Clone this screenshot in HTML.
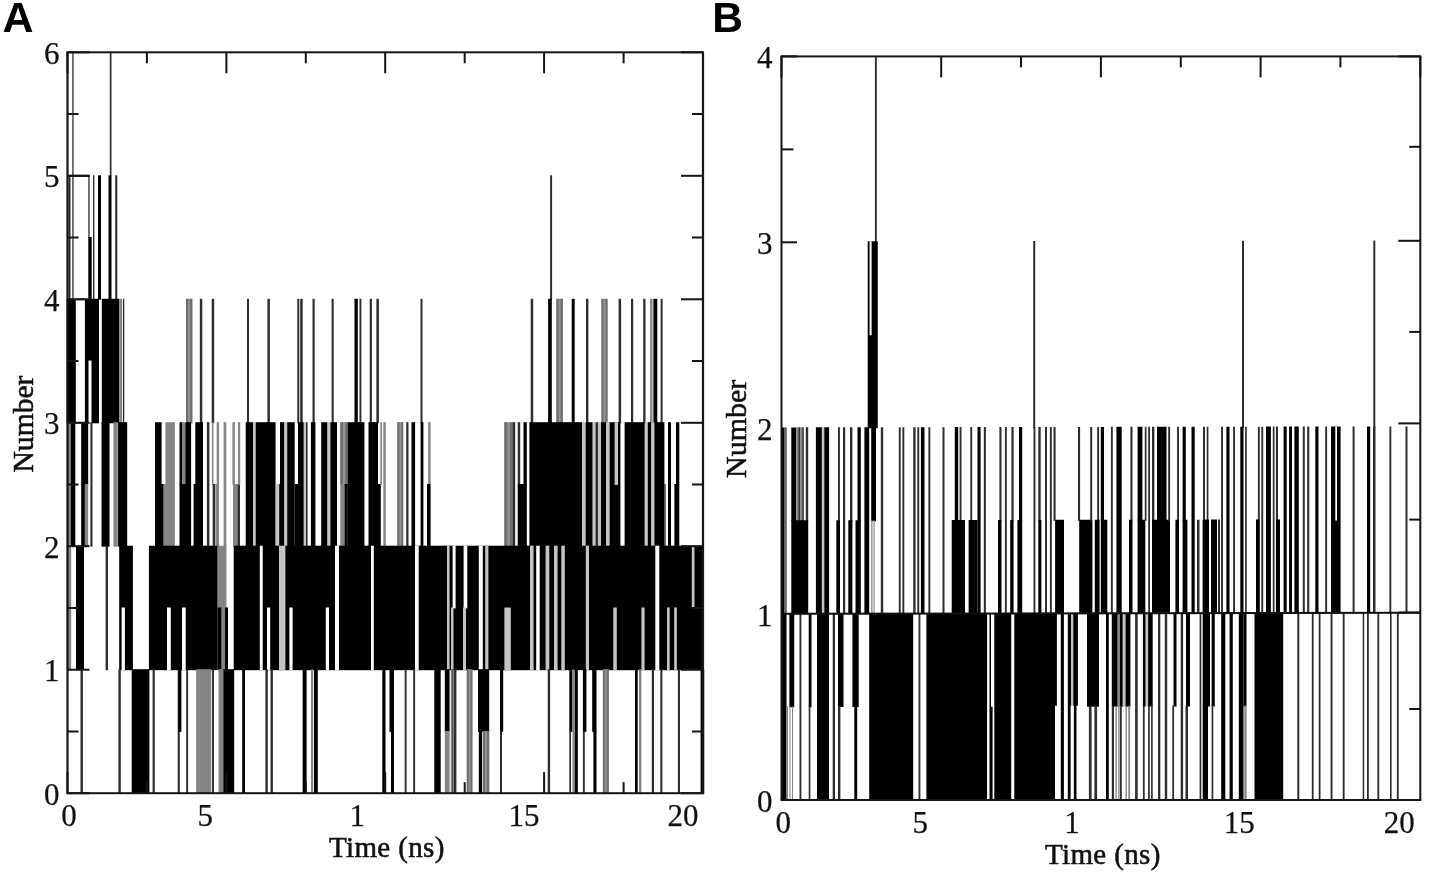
<!DOCTYPE html>
<html><head><meta charset="utf-8"><title>Figure</title>
<style>html,body{margin:0;padding:0;background:#fff;}svg{display:block;}</style></head>
<body><svg width="1432" height="874" viewBox="0 0 1432 874">
<defs><clipPath id="clipB"><rect x="780" y="56" width="641.5" height="744.5"/></clipPath></defs>
<rect width="1432" height="874" fill="#fff"/>
<g>
<rect x="72.3" y="51.8" width="1.3" height="124.5" fill="#2e2e2e"/>
<rect x="109.8" y="51.8" width="1.7" height="124.5" fill="#2e2e2e"/>
<rect x="72.3" y="175.3" width="1.3" height="124.5" fill="#2e2e2e"/>
<rect x="68.5" y="175.3" width="2.0" height="124.5" fill="#2e2e2e"/>
<rect x="88.3" y="175.3" width="1.3" height="62.7" fill="#2e2e2e"/>
<rect x="88.3" y="237.0" width="3.4" height="62.7" fill="#000"/>
<rect x="93.0" y="175.3" width="1.4" height="124.5" fill="#2e2e2e"/>
<rect x="98.0" y="175.3" width="3.0" height="124.5" fill="#000"/>
<rect x="108.5" y="175.3" width="3.0" height="124.5" fill="#000"/>
<rect x="115.2" y="175.3" width="2.1" height="124.5" fill="#2e2e2e"/>
<rect x="550.1" y="175.3" width="2.0" height="124.5" fill="#2e2e2e"/>
<rect x="66.6" y="298.8" width="9.2" height="124.5" fill="#000"/>
<rect x="84.9" y="298.8" width="14.1" height="124.5" fill="#000"/>
<rect x="88.5" y="360.5" width="3.0" height="62.7" fill="#fff"/>
<rect x="101.8" y="298.8" width="17.6" height="124.5" fill="#000"/>
<rect x="119.7" y="298.8" width="2.5" height="124.5" fill="#858585"/>
<rect x="123.0" y="298.8" width="1.3" height="124.5" fill="#2e2e2e"/>
<rect x="186.0" y="298.8" width="6.3" height="124.5" fill="#929292"/>
<rect x="186.0" y="298.8" width="2.1" height="124.5" fill="#6e6e6e"/>
<rect x="190.2" y="298.8" width="2.1" height="124.5" fill="#6e6e6e"/>
<rect x="199.8" y="298.8" width="2.5" height="124.5" fill="#2e2e2e"/>
<rect x="211.7" y="298.8" width="2.5" height="124.5" fill="#2e2e2e"/>
<rect x="247.0" y="298.8" width="2.0" height="124.5" fill="#2e2e2e"/>
<rect x="267.4" y="298.8" width="2.5" height="124.5" fill="#2e2e2e"/>
<rect x="297.3" y="298.8" width="2.0" height="124.5" fill="#2e2e2e"/>
<rect x="300.2" y="298.8" width="2.5" height="124.5" fill="#2e2e2e"/>
<rect x="312.5" y="298.8" width="2.2" height="124.5" fill="#2e2e2e"/>
<rect x="331.6" y="298.8" width="2.1" height="124.5" fill="#2e2e2e"/>
<rect x="354.5" y="298.8" width="3.3" height="124.5" fill="#000"/>
<rect x="359.5" y="298.8" width="1.9" height="124.5" fill="#2e2e2e"/>
<rect x="369.7" y="298.8" width="2.2" height="124.5" fill="#2e2e2e"/>
<rect x="376.4" y="298.8" width="2.5" height="124.5" fill="#2e2e2e"/>
<rect x="420.5" y="298.8" width="2.0" height="124.5" fill="#2e2e2e"/>
<rect x="530.7" y="298.8" width="2.5" height="124.5" fill="#2e2e2e"/>
<rect x="548.1" y="298.8" width="3.7" height="124.5" fill="#000"/>
<rect x="556.4" y="298.8" width="6.3" height="124.5" fill="#929292"/>
<rect x="556.4" y="298.8" width="2.1" height="124.5" fill="#6e6e6e"/>
<rect x="560.6" y="298.8" width="2.1" height="124.5" fill="#6e6e6e"/>
<rect x="571.7" y="298.8" width="3.0" height="124.5" fill="#000"/>
<rect x="586.0" y="298.8" width="2.4" height="124.5" fill="#2e2e2e"/>
<rect x="601.5" y="298.8" width="6.0" height="124.5" fill="#929292"/>
<rect x="601.5" y="298.8" width="2.0" height="124.5" fill="#6e6e6e"/>
<rect x="605.5" y="298.8" width="2.0" height="124.5" fill="#6e6e6e"/>
<rect x="618.6" y="298.8" width="2.5" height="124.5" fill="#2e2e2e"/>
<rect x="631.0" y="298.8" width="2.2" height="124.5" fill="#2e2e2e"/>
<rect x="643.2" y="298.8" width="2.3" height="124.5" fill="#2e2e2e"/>
<rect x="650.1" y="298.8" width="2.5" height="124.5" fill="#858585"/>
<rect x="653.4" y="298.8" width="3.9" height="124.5" fill="#000"/>
<rect x="660.6" y="298.8" width="2.0" height="124.5" fill="#2e2e2e"/>
<rect x="68.0" y="422.2" width="2.8" height="124.5" fill="#858585"/>
<rect x="70.8" y="422.2" width="4.5" height="124.5" fill="#000"/>
<rect x="81.2" y="422.2" width="7.0" height="62.7" fill="#000"/>
<rect x="81.2" y="484.0" width="3.7" height="62.7" fill="#000"/>
<rect x="84.9" y="484.0" width="3.3" height="62.7" fill="#858585"/>
<rect x="90.4" y="422.2" width="2.1" height="124.5" fill="#2e2e2e"/>
<rect x="101.5" y="422.2" width="8.0" height="124.5" fill="#000"/>
<rect x="113.4" y="422.2" width="4.4" height="124.5" fill="#858585"/>
<rect x="118.1" y="422.2" width="9.1" height="124.5" fill="#000"/>
<rect x="155.0" y="422.2" width="6.6" height="62.7" fill="#000"/>
<rect x="155.0" y="484.0" width="8.7" height="62.7" fill="#000"/>
<rect x="165.4" y="422.2" width="9.5" height="62.7" fill="#858585"/>
<rect x="163.7" y="484.0" width="11.2" height="62.7" fill="#858585"/>
<rect x="179.5" y="422.2" width="3.0" height="62.7" fill="#000"/>
<rect x="182.5" y="422.2" width="2.8" height="62.7" fill="#858585"/>
<rect x="185.3" y="422.2" width="5.8" height="62.7" fill="#000"/>
<rect x="179.5" y="484.0" width="11.6" height="62.7" fill="#000"/>
<rect x="195.3" y="422.2" width="7.7" height="62.7" fill="#000"/>
<rect x="193.6" y="484.0" width="9.4" height="62.7" fill="#000"/>
<rect x="206.9" y="422.2" width="2.5" height="124.5" fill="#2e2e2e"/>
<rect x="211.9" y="422.2" width="1.6" height="62.7" fill="#858585"/>
<rect x="212.7" y="484.0" width="2.5" height="62.7" fill="#2e2e2e"/>
<rect x="216.7" y="422.2" width="2.4" height="62.7" fill="#858585"/>
<rect x="215.5" y="484.0" width="3.6" height="62.7" fill="#858585"/>
<rect x="223.6" y="422.2" width="2.7" height="124.5" fill="#858585"/>
<rect x="232.4" y="422.2" width="2.5" height="62.7" fill="#858585"/>
<rect x="233.0" y="484.0" width="4.4" height="62.7" fill="#858585"/>
<rect x="237.4" y="484.0" width="2.6" height="62.7" fill="#2e2e2e"/>
<rect x="237.9" y="422.2" width="2.3" height="62.7" fill="#858585"/>
<rect x="245.7" y="422.2" width="7.5" height="124.5" fill="#000"/>
<rect x="253.2" y="422.2" width="2.5" height="124.5" fill="#c4c4c4"/>
<rect x="255.7" y="422.2" width="19.9" height="124.5" fill="#000"/>
<rect x="275.6" y="484.0" width="3.4" height="62.7" fill="#c4c4c4"/>
<rect x="279.0" y="484.0" width="1.0" height="62.7" fill="#2e2e2e"/>
<rect x="280.0" y="422.2" width="4.4" height="124.5" fill="#000"/>
<rect x="284.4" y="422.2" width="2.8" height="124.5" fill="#c4c4c4"/>
<rect x="287.2" y="422.2" width="7.5" height="124.5" fill="#000"/>
<rect x="294.7" y="484.0" width="3.3" height="62.7" fill="#000"/>
<rect x="298.0" y="422.2" width="5.8" height="124.5" fill="#000"/>
<rect x="303.8" y="422.2" width="2.2" height="124.5" fill="#c4c4c4"/>
<rect x="306.0" y="422.2" width="1.6" height="124.5" fill="#2e2e2e"/>
<rect x="310.9" y="422.2" width="4.5" height="124.5" fill="#000"/>
<rect x="321.2" y="422.2" width="6.3" height="124.5" fill="#000"/>
<rect x="327.5" y="422.2" width="2.9" height="124.5" fill="#c4c4c4"/>
<rect x="330.4" y="422.2" width="6.6" height="124.5" fill="#000"/>
<rect x="340.3" y="422.2" width="7.5" height="62.7" fill="#929292"/>
<rect x="340.3" y="422.2" width="2.6" height="62.7" fill="#6e6e6e"/>
<rect x="345.2" y="422.2" width="2.6" height="62.7" fill="#6e6e6e"/>
<rect x="340.3" y="484.0" width="4.2" height="62.7" fill="#858585"/>
<rect x="344.5" y="484.0" width="3.3" height="62.7" fill="#000"/>
<rect x="347.8" y="422.2" width="16.6" height="124.5" fill="#000"/>
<rect x="368.5" y="422.2" width="6.5" height="124.5" fill="#000"/>
<rect x="370.0" y="422.2" width="8.0" height="62.7" fill="#000"/>
<rect x="370.0" y="484.0" width="10.8" height="62.7" fill="#000"/>
<rect x="380.3" y="422.2" width="1.7" height="62.7" fill="#858585"/>
<rect x="383.3" y="422.2" width="2.5" height="124.5" fill="#858585"/>
<rect x="397.4" y="422.2" width="5.8" height="124.5" fill="#929292"/>
<rect x="397.4" y="422.2" width="2.0" height="124.5" fill="#6e6e6e"/>
<rect x="401.2" y="422.2" width="2.0" height="124.5" fill="#6e6e6e"/>
<rect x="406.2" y="422.2" width="2.3" height="124.5" fill="#2e2e2e"/>
<rect x="411.5" y="422.2" width="3.6" height="124.5" fill="#000"/>
<rect x="420.6" y="422.2" width="2.8" height="124.5" fill="#000"/>
<rect x="428.1" y="422.2" width="2.5" height="62.7" fill="#858585"/>
<rect x="427.0" y="484.0" width="3.6" height="62.7" fill="#000"/>
<rect x="504.4" y="422.2" width="8.3" height="124.5" fill="#929292"/>
<rect x="504.4" y="422.2" width="2.8" height="124.5" fill="#6e6e6e"/>
<rect x="509.9" y="422.2" width="2.8" height="124.5" fill="#6e6e6e"/>
<rect x="512.7" y="422.2" width="2.5" height="124.5" fill="#2e2e2e"/>
<rect x="517.7" y="422.2" width="2.5" height="62.7" fill="#2e2e2e"/>
<rect x="517.7" y="484.0" width="9.1" height="62.7" fill="#000"/>
<rect x="523.5" y="422.2" width="3.3" height="62.7" fill="#000"/>
<rect x="529.0" y="422.2" width="53.2" height="124.5" fill="#000"/>
<rect x="527.2" y="422.2" width="2.2" height="124.5" fill="#fff"/>
<rect x="582.2" y="422.2" width="3.4" height="124.5" fill="#c4c4c4"/>
<rect x="585.6" y="422.2" width="7.1" height="124.5" fill="#000"/>
<rect x="592.7" y="422.2" width="2.8" height="124.5" fill="#c4c4c4"/>
<rect x="595.5" y="422.2" width="2.5" height="124.5" fill="#2e2e2e"/>
<rect x="598.0" y="422.2" width="3.0" height="124.5" fill="#c4c4c4"/>
<rect x="601.0" y="422.2" width="5.0" height="124.5" fill="#000"/>
<rect x="606.0" y="422.2" width="3.6" height="124.5" fill="#c4c4c4"/>
<rect x="609.6" y="422.2" width="10.8" height="124.5" fill="#000"/>
<rect x="614.6" y="422.2" width="3.4" height="62.7" fill="#c4c4c4"/>
<rect x="624.6" y="422.2" width="20.2" height="124.5" fill="#000"/>
<rect x="644.8" y="422.2" width="3.0" height="124.5" fill="#c4c4c4"/>
<rect x="647.8" y="422.2" width="3.6" height="124.5" fill="#000"/>
<rect x="651.4" y="422.2" width="3.0" height="124.5" fill="#c4c4c4"/>
<rect x="654.4" y="422.2" width="10.0" height="124.5" fill="#000"/>
<rect x="664.4" y="484.0" width="1.3" height="62.7" fill="#2e2e2e"/>
<rect x="668.0" y="422.2" width="3.0" height="124.5" fill="#000"/>
<rect x="674.4" y="484.0" width="4.9" height="62.7" fill="#000"/>
<rect x="676.0" y="422.2" width="3.3" height="62.7" fill="#000"/>
<rect x="66.7" y="545.7" width="4.5" height="124.5" fill="#858585"/>
<rect x="76.0" y="545.7" width="8.0" height="124.5" fill="#000"/>
<rect x="105.6" y="545.7" width="2.4" height="124.5" fill="#2e2e2e"/>
<rect x="119.2" y="545.7" width="13.7" height="124.5" fill="#000"/>
<rect x="121.6" y="607.5" width="3.3" height="62.7" fill="#fff"/>
<rect x="148.9" y="545.7" width="68.8" height="124.5" fill="#000"/>
<rect x="167.0" y="607.5" width="3.8" height="62.7" fill="#fff"/>
<rect x="182.0" y="607.5" width="3.7" height="62.7" fill="#fff"/>
<rect x="217.7" y="545.7" width="8.8" height="62.7" fill="#858585"/>
<rect x="217.7" y="607.5" width="4.0" height="62.7" fill="#000"/>
<rect x="221.7" y="607.5" width="3.3" height="62.7" fill="#858585"/>
<rect x="225.0" y="607.5" width="3.0" height="62.7" fill="#000"/>
<rect x="233.7" y="545.7" width="470.3" height="124.5" fill="#000"/>
<rect x="259.8" y="545.7" width="2.9" height="124.5" fill="#fff"/>
<rect x="267.0" y="607.5" width="3.2" height="62.7" fill="#fff"/>
<rect x="279.0" y="545.7" width="6.4" height="124.5" fill="#c4c4c4"/>
<rect x="289.4" y="607.5" width="3.2" height="62.7" fill="#fff"/>
<rect x="325.8" y="607.5" width="3.2" height="62.7" fill="#fff"/>
<rect x="335.0" y="545.7" width="4.0" height="124.5" fill="#fff"/>
<rect x="371.0" y="545.7" width="2.8" height="124.5" fill="#fff"/>
<rect x="415.0" y="545.7" width="3.7" height="124.5" fill="#fff"/>
<rect x="447.0" y="545.7" width="2.6" height="124.5" fill="#c4c4c4"/>
<rect x="452.6" y="545.7" width="3.0" height="62.7" fill="#fff"/>
<rect x="451.0" y="607.5" width="2.5" height="62.7" fill="#c4c4c4"/>
<rect x="463.6" y="545.7" width="3.7" height="62.7" fill="#fff"/>
<rect x="463.0" y="607.5" width="3.0" height="62.7" fill="#c4c4c4"/>
<rect x="478.8" y="545.7" width="4.0" height="124.5" fill="#fff"/>
<rect x="485.2" y="545.7" width="3.2" height="124.5" fill="#c4c4c4"/>
<rect x="504.4" y="607.5" width="6.4" height="62.7" fill="#c4c4c4"/>
<rect x="530.0" y="545.7" width="3.6" height="124.5" fill="#c4c4c4"/>
<rect x="536.2" y="545.7" width="3.5" height="124.5" fill="#fff"/>
<rect x="545.6" y="545.7" width="3.7" height="124.5" fill="#c4c4c4"/>
<rect x="554.0" y="545.7" width="3.6" height="124.5" fill="#c4c4c4"/>
<rect x="561.3" y="545.7" width="3.5" height="124.5" fill="#c4c4c4"/>
<rect x="585.8" y="545.7" width="3.2" height="124.5" fill="#c4c4c4"/>
<rect x="613.3" y="607.5" width="3.5" height="62.7" fill="#c4c4c4"/>
<rect x="641.4" y="607.5" width="3.2" height="62.7" fill="#c4c4c4"/>
<rect x="655.3" y="545.7" width="4.0" height="124.5" fill="#fff"/>
<rect x="667.0" y="607.5" width="2.7" height="62.7" fill="#c4c4c4"/>
<rect x="674.2" y="607.5" width="2.7" height="62.7" fill="#c4c4c4"/>
<rect x="691.8" y="545.7" width="2.7" height="62.7" fill="#c4c4c4"/>
<rect x="80.5" y="669.2" width="2.4" height="124.5" fill="#2e2e2e"/>
<rect x="118.4" y="669.2" width="2.4" height="124.5" fill="#2e2e2e"/>
<rect x="131.7" y="669.2" width="17.7" height="124.5" fill="#000"/>
<rect x="152.6" y="669.2" width="2.2" height="124.5" fill="#2e2e2e"/>
<rect x="177.7" y="669.2" width="2.1" height="124.5" fill="#2e2e2e"/>
<rect x="178.5" y="669.2" width="2.9" height="62.7" fill="#000"/>
<rect x="186.2" y="669.2" width="1.9" height="124.5" fill="#2e2e2e"/>
<rect x="196.1" y="669.2" width="15.2" height="124.5" fill="#858585"/>
<rect x="212.1" y="669.2" width="1.9" height="124.5" fill="#2e2e2e"/>
<rect x="218.5" y="669.2" width="4.8" height="124.5" fill="#858585"/>
<rect x="223.3" y="669.2" width="10.9" height="124.5" fill="#000"/>
<rect x="242.2" y="669.2" width="2.8" height="124.5" fill="#000"/>
<rect x="265.4" y="669.2" width="2.4" height="124.5" fill="#2e2e2e"/>
<rect x="270.5" y="669.2" width="2.4" height="124.5" fill="#2e2e2e"/>
<rect x="302.6" y="669.2" width="4.0" height="124.5" fill="#000"/>
<rect x="311.0" y="669.2" width="2.0" height="124.5" fill="#858585"/>
<rect x="313.9" y="669.2" width="3.9" height="124.5" fill="#000"/>
<rect x="382.3" y="669.2" width="3.2" height="124.5" fill="#000"/>
<rect x="389.5" y="669.2" width="4.5" height="62.7" fill="#000"/>
<rect x="391.0" y="731.0" width="3.0" height="62.7" fill="#000"/>
<rect x="404.7" y="669.2" width="1.9" height="124.5" fill="#2e2e2e"/>
<rect x="413.2" y="669.2" width="1.9" height="124.5" fill="#2e2e2e"/>
<rect x="434.3" y="669.2" width="6.4" height="124.5" fill="#000"/>
<rect x="444.8" y="669.2" width="4.8" height="62.7" fill="#000"/>
<rect x="444.8" y="731.0" width="4.8" height="62.7" fill="#858585"/>
<rect x="451.2" y="669.2" width="2.4" height="124.5" fill="#2e2e2e"/>
<rect x="450.8" y="669.2" width="1.6" height="124.5" fill="#858585"/>
<rect x="454.0" y="669.2" width="2.4" height="124.5" fill="#2e2e2e"/>
<rect x="466.8" y="669.2" width="5.6" height="124.5" fill="#929292"/>
<rect x="466.8" y="669.2" width="1.9" height="124.5" fill="#6e6e6e"/>
<rect x="470.5" y="669.2" width="1.9" height="124.5" fill="#6e6e6e"/>
<rect x="478.0" y="669.2" width="11.2" height="62.7" fill="#000"/>
<rect x="478.8" y="731.0" width="3.2" height="62.7" fill="#000"/>
<rect x="482.8" y="731.0" width="6.4" height="62.7" fill="#929292"/>
<rect x="482.8" y="731.0" width="2.2" height="62.7" fill="#6e6e6e"/>
<rect x="487.0" y="731.0" width="2.2" height="62.7" fill="#6e6e6e"/>
<rect x="500.0" y="669.2" width="3.2" height="62.7" fill="#000"/>
<rect x="500.0" y="731.0" width="2.0" height="62.7" fill="#2e2e2e"/>
<rect x="547.7" y="669.2" width="2.4" height="124.5" fill="#2e2e2e"/>
<rect x="569.3" y="669.2" width="3.2" height="62.7" fill="#000"/>
<rect x="569.3" y="731.0" width="1.7" height="62.7" fill="#2e2e2e"/>
<rect x="572.5" y="669.2" width="1.7" height="124.5" fill="#858585"/>
<rect x="574.6" y="669.2" width="3.2" height="124.5" fill="#000"/>
<rect x="582.9" y="669.2" width="3.5" height="62.7" fill="#000"/>
<rect x="582.9" y="731.0" width="1.9" height="62.7" fill="#2e2e2e"/>
<rect x="592.2" y="669.2" width="4.3" height="62.7" fill="#000"/>
<rect x="593.4" y="731.0" width="3.1" height="62.7" fill="#000"/>
<rect x="602.9" y="669.2" width="5.9" height="124.5" fill="#929292"/>
<rect x="602.9" y="669.2" width="2.0" height="124.5" fill="#6e6e6e"/>
<rect x="606.8" y="669.2" width="2.0" height="124.5" fill="#6e6e6e"/>
<rect x="635.0" y="669.2" width="2.7" height="124.5" fill="#000"/>
<rect x="639.0" y="669.2" width="2.4" height="124.5" fill="#858585"/>
<rect x="651.8" y="669.2" width="2.2" height="124.5" fill="#2e2e2e"/>
<rect x="660.3" y="669.2" width="2.1" height="124.5" fill="#2e2e2e"/>
<rect x="677.9" y="669.2" width="2.1" height="124.5" fill="#2e2e2e"/>
<rect x="700.6" y="669.2" width="3.6" height="124.5" fill="#000"/>
<g clip-path="url(#clipB)"><g transform="matrix(1,-0.0016,0,1,0,0.950)">
<rect x="874.9" y="53.4" width="1.9" height="189.4" fill="#2e2e2e"/>
<rect x="867.7" y="241.8" width="10.1" height="186.9" fill="#000"/>
<rect x="869.6" y="241.8" width="2.0" height="94.0" fill="#fff"/>
<rect x="1033.2" y="241.8" width="2.0" height="186.9" fill="#2e2e2e"/>
<rect x="1242.0" y="241.8" width="2.0" height="186.9" fill="#2e2e2e"/>
<rect x="1373.3" y="241.8" width="2.0" height="186.9" fill="#2e2e2e"/>
<rect x="781.0" y="427.7" width="5.5" height="186.9" fill="#000"/>
<rect x="784.6" y="427.7" width="0.8" height="186.9" fill="#fff"/>
<rect x="791.3" y="427.7" width="4.9" height="93.9" fill="#000"/>
<rect x="796.2" y="427.7" width="2.1" height="93.9" fill="#858585"/>
<rect x="798.3" y="427.7" width="1.9" height="93.9" fill="#2e2e2e"/>
<rect x="800.2" y="427.7" width="2.0" height="93.9" fill="#858585"/>
<rect x="802.2" y="427.7" width="1.6" height="93.9" fill="#2e2e2e"/>
<rect x="805.8" y="427.7" width="2.4" height="93.9" fill="#2e2e2e"/>
<rect x="791.3" y="520.6" width="16.9" height="94.0" fill="#000"/>
<rect x="815.9" y="427.7" width="6.0" height="186.9" fill="#000"/>
<rect x="821.9" y="427.7" width="2.4" height="186.9" fill="#c4c4c4"/>
<rect x="824.3" y="427.7" width="4.8" height="186.9" fill="#000"/>
<rect x="838.0" y="427.7" width="1.9" height="93.9" fill="#2e2e2e"/>
<rect x="836.3" y="520.6" width="3.7" height="94.0" fill="#000"/>
<rect x="843.0" y="427.7" width="2.2" height="186.9" fill="#2e2e2e"/>
<rect x="850.0" y="427.7" width="2.4" height="93.9" fill="#2e2e2e"/>
<rect x="848.3" y="520.6" width="4.1" height="94.0" fill="#000"/>
<rect x="857.5" y="427.7" width="3.3" height="93.9" fill="#000"/>
<rect x="855.5" y="520.6" width="5.3" height="94.0" fill="#000"/>
<rect x="864.4" y="427.7" width="4.8" height="186.9" fill="#000"/>
<rect x="871.2" y="427.7" width="4.8" height="93.9" fill="#000"/>
<rect x="871.2" y="520.6" width="1.3" height="94.0" fill="#858585"/>
<rect x="873.5" y="520.6" width="1.1" height="94.0" fill="#858585"/>
<rect x="880.8" y="427.7" width="2.4" height="186.9" fill="#2e2e2e"/>
<rect x="898.8" y="427.7" width="1.9" height="186.9" fill="#2e2e2e"/>
<rect x="902.4" y="427.7" width="1.9" height="186.9" fill="#2e2e2e"/>
<rect x="913.2" y="427.7" width="2.4" height="186.9" fill="#2e2e2e"/>
<rect x="917.3" y="427.7" width="1.9" height="186.9" fill="#2e2e2e"/>
<rect x="920.9" y="427.7" width="3.6" height="186.9" fill="#000"/>
<rect x="928.4" y="427.7" width="1.9" height="186.9" fill="#2e2e2e"/>
<rect x="942.5" y="427.7" width="2.0" height="186.9" fill="#2e2e2e"/>
<rect x="954.8" y="427.7" width="3.4" height="93.9" fill="#000"/>
<rect x="959.6" y="427.7" width="1.9" height="93.9" fill="#2e2e2e"/>
<rect x="951.7" y="520.6" width="13.3" height="94.0" fill="#000"/>
<rect x="970.3" y="427.7" width="1.9" height="93.9" fill="#2e2e2e"/>
<rect x="968.6" y="520.6" width="8.9" height="94.0" fill="#000"/>
<rect x="977.5" y="427.7" width="3.1" height="186.9" fill="#000"/>
<rect x="983.8" y="427.7" width="2.1" height="186.9" fill="#2e2e2e"/>
<rect x="999.4" y="427.7" width="2.1" height="93.9" fill="#2e2e2e"/>
<rect x="998.0" y="520.6" width="3.5" height="94.0" fill="#000"/>
<rect x="1004.9" y="427.7" width="1.9" height="186.9" fill="#2e2e2e"/>
<rect x="1011.4" y="427.7" width="2.2" height="93.9" fill="#2e2e2e"/>
<rect x="1010.2" y="520.6" width="3.4" height="94.0" fill="#000"/>
<rect x="1019.0" y="427.7" width="3.2" height="93.9" fill="#000"/>
<rect x="1017.4" y="520.6" width="4.8" height="94.0" fill="#000"/>
<rect x="1033.5" y="427.7" width="1.9" height="186.9" fill="#2e2e2e"/>
<rect x="1038.3" y="427.7" width="2.4" height="93.9" fill="#2e2e2e"/>
<rect x="1038.3" y="520.6" width="3.1" height="94.0" fill="#000"/>
<rect x="1045.0" y="427.7" width="2.0" height="186.9" fill="#2e2e2e"/>
<rect x="1049.9" y="427.7" width="1.9" height="186.9" fill="#2e2e2e"/>
<rect x="1053.5" y="427.7" width="2.1" height="93.9" fill="#2e2e2e"/>
<rect x="1055.1" y="520.6" width="8.9" height="94.0" fill="#000"/>
<rect x="1078.0" y="427.7" width="2.1" height="93.9" fill="#2e2e2e"/>
<rect x="1079.2" y="520.6" width="13.2" height="94.0" fill="#000"/>
<rect x="1090.2" y="427.7" width="2.0" height="93.9" fill="#2e2e2e"/>
<rect x="1097.2" y="427.7" width="1.9" height="93.9" fill="#2e2e2e"/>
<rect x="1094.8" y="520.6" width="4.8" height="94.0" fill="#000"/>
<rect x="1100.8" y="427.7" width="3.2" height="93.9" fill="#000"/>
<rect x="1100.8" y="520.6" width="6.5" height="94.0" fill="#000"/>
<rect x="1110.9" y="427.7" width="1.9" height="186.9" fill="#2e2e2e"/>
<rect x="1116.4" y="427.7" width="5.3" height="186.9" fill="#000"/>
<rect x="1130.4" y="427.7" width="2.1" height="93.9" fill="#2e2e2e"/>
<rect x="1129.0" y="520.6" width="3.5" height="94.0" fill="#000"/>
<rect x="1137.6" y="427.7" width="4.8" height="93.9" fill="#000"/>
<rect x="1137.6" y="520.6" width="7.7" height="94.0" fill="#000"/>
<rect x="1144.8" y="427.7" width="1.7" height="93.9" fill="#2e2e2e"/>
<rect x="1148.2" y="427.7" width="1.8" height="186.9" fill="#2e2e2e"/>
<rect x="1152.0" y="427.7" width="2.4" height="93.9" fill="#2e2e2e"/>
<rect x="1152.0" y="520.6" width="18.0" height="94.0" fill="#000"/>
<rect x="1157.0" y="427.7" width="9.5" height="93.9" fill="#000"/>
<rect x="1168.2" y="427.7" width="1.9" height="93.9" fill="#2e2e2e"/>
<rect x="1177.1" y="427.7" width="1.9" height="93.9" fill="#2e2e2e"/>
<rect x="1175.4" y="520.6" width="3.6" height="94.0" fill="#000"/>
<rect x="1182.6" y="427.7" width="3.2" height="93.9" fill="#000"/>
<rect x="1182.6" y="520.6" width="4.8" height="94.0" fill="#000"/>
<rect x="1191.5" y="427.7" width="3.2" height="186.9" fill="#000"/>
<rect x="1197.0" y="520.6" width="2.5" height="94.0" fill="#2e2e2e"/>
<rect x="1203.0" y="427.7" width="2.0" height="93.9" fill="#2e2e2e"/>
<rect x="1206.7" y="427.7" width="1.7" height="93.9" fill="#2e2e2e"/>
<rect x="1202.6" y="520.6" width="6.4" height="94.0" fill="#000"/>
<rect x="1211.0" y="520.6" width="6.0" height="94.0" fill="#000"/>
<rect x="1218.0" y="520.6" width="2.0" height="94.0" fill="#2e2e2e"/>
<rect x="1221.1" y="427.7" width="1.9" height="186.9" fill="#2e2e2e"/>
<rect x="1226.4" y="427.7" width="3.1" height="186.9" fill="#000"/>
<rect x="1233.1" y="427.7" width="1.9" height="186.9" fill="#2e2e2e"/>
<rect x="1240.3" y="427.7" width="3.2" height="186.9" fill="#000"/>
<rect x="1245.1" y="427.7" width="1.7" height="186.9" fill="#2e2e2e"/>
<rect x="1257.9" y="427.7" width="1.9" height="93.9" fill="#2e2e2e"/>
<rect x="1256.0" y="520.6" width="3.8" height="94.0" fill="#000"/>
<rect x="1261.3" y="427.7" width="1.9" height="186.9" fill="#2e2e2e"/>
<rect x="1266.0" y="427.7" width="4.9" height="186.9" fill="#000"/>
<rect x="1272.8" y="427.7" width="1.7" height="186.9" fill="#2e2e2e"/>
<rect x="1275.9" y="427.7" width="2.1" height="93.9" fill="#2e2e2e"/>
<rect x="1275.9" y="520.6" width="4.1" height="94.0" fill="#000"/>
<rect x="1283.6" y="427.7" width="3.1" height="186.9" fill="#000"/>
<rect x="1289.1" y="427.7" width="2.9" height="186.9" fill="#000"/>
<rect x="1294.4" y="427.7" width="4.4" height="186.9" fill="#000"/>
<rect x="1302.8" y="427.7" width="2.0" height="186.9" fill="#2e2e2e"/>
<rect x="1307.2" y="427.7" width="2.1" height="186.9" fill="#2e2e2e"/>
<rect x="1315.3" y="427.7" width="3.2" height="186.9" fill="#000"/>
<rect x="1325.2" y="427.7" width="1.9" height="186.9" fill="#2e2e2e"/>
<rect x="1331.0" y="427.7" width="9.6" height="186.9" fill="#000"/>
<rect x="1335.3" y="427.7" width="1.7" height="93.9" fill="#fff"/>
<rect x="1352.6" y="427.7" width="2.0" height="186.9" fill="#2e2e2e"/>
<rect x="1367.0" y="427.7" width="3.2" height="186.9" fill="#000"/>
<rect x="1373.0" y="427.7" width="2.5" height="186.9" fill="#2e2e2e"/>
<rect x="1389.4" y="427.7" width="1.9" height="186.9" fill="#2e2e2e"/>
<rect x="1405.5" y="427.7" width="2.0" height="186.9" fill="#2e2e2e"/>
<rect x="781.0" y="613.6" width="5.5" height="189.4" fill="#000"/>
<rect x="789.4" y="613.6" width="4.8" height="93.9" fill="#000"/>
<rect x="787.0" y="706.5" width="1.0" height="96.5" fill="#858585"/>
<rect x="789.5" y="706.5" width="1.0" height="96.5" fill="#858585"/>
<rect x="792.0" y="706.5" width="1.0" height="96.5" fill="#858585"/>
<rect x="799.5" y="613.6" width="1.9" height="189.4" fill="#2e2e2e"/>
<rect x="808.7" y="613.6" width="2.8" height="93.9" fill="#000"/>
<rect x="808.7" y="706.5" width="1.7" height="96.5" fill="#2e2e2e"/>
<rect x="817.0" y="613.6" width="12.0" height="189.4" fill="#000"/>
<rect x="832.7" y="613.6" width="2.3" height="189.4" fill="#2e2e2e"/>
<rect x="838.0" y="613.6" width="5.5" height="93.9" fill="#000"/>
<rect x="838.0" y="706.5" width="2.4" height="96.5" fill="#2e2e2e"/>
<rect x="852.4" y="613.6" width="6.3" height="93.9" fill="#000"/>
<rect x="854.3" y="706.5" width="2.9" height="96.5" fill="#000"/>
<rect x="869.2" y="613.6" width="44.0" height="189.4" fill="#000"/>
<rect x="918.5" y="613.6" width="1.9" height="189.4" fill="#2e2e2e"/>
<rect x="926.4" y="613.6" width="130.5" height="189.4" fill="#000"/>
<rect x="987.1" y="613.6" width="2.4" height="189.4" fill="#fff"/>
<rect x="991.0" y="613.6" width="3.3" height="93.9" fill="#fff"/>
<rect x="992.6" y="706.5" width="1.7" height="96.5" fill="#fff"/>
<rect x="1011.2" y="613.6" width="3.1" height="189.4" fill="#fff"/>
<rect x="1055.0" y="706.5" width="2.0" height="96.5" fill="#fff"/>
<rect x="1060.8" y="613.6" width="3.1" height="189.4" fill="#000"/>
<rect x="1067.8" y="613.6" width="3.2" height="189.4" fill="#000"/>
<rect x="1071.0" y="613.6" width="2.3" height="189.4" fill="#c4c4c4"/>
<rect x="1073.3" y="613.6" width="4.6" height="189.4" fill="#000"/>
<rect x="1070.6" y="706.5" width="3.2" height="96.5" fill="#fff"/>
<rect x="1076.5" y="706.5" width="1.5" height="96.5" fill="#fff"/>
<rect x="1087.0" y="613.6" width="12.0" height="93.9" fill="#000"/>
<rect x="1088.9" y="706.5" width="2.7" height="96.5" fill="#2e2e2e"/>
<rect x="1094.4" y="706.5" width="2.7" height="96.5" fill="#2e2e2e"/>
<rect x="1106.0" y="613.6" width="2.8" height="189.4" fill="#000"/>
<rect x="1111.8" y="613.6" width="5.9" height="93.9" fill="#000"/>
<rect x="1111.8" y="706.5" width="2.2" height="96.5" fill="#2e2e2e"/>
<rect x="1115.4" y="706.5" width="1.4" height="96.5" fill="#858585"/>
<rect x="1117.7" y="613.6" width="2.3" height="93.9" fill="#858585"/>
<rect x="1120.0" y="613.6" width="2.8" height="93.9" fill="#000"/>
<rect x="1118.2" y="706.5" width="1.4" height="96.5" fill="#858585"/>
<rect x="1120.0" y="706.5" width="1.8" height="96.5" fill="#2e2e2e"/>
<rect x="1122.8" y="613.6" width="2.7" height="93.9" fill="#c4c4c4"/>
<rect x="1125.5" y="613.6" width="4.9" height="93.9" fill="#000"/>
<rect x="1125.5" y="706.5" width="1.4" height="96.5" fill="#858585"/>
<rect x="1128.3" y="706.5" width="1.8" height="96.5" fill="#858585"/>
<rect x="1135.1" y="613.6" width="2.6" height="189.4" fill="#2e2e2e"/>
<rect x="1142.9" y="613.6" width="2.8" height="93.9" fill="#000"/>
<rect x="1142.9" y="706.5" width="1.8" height="96.5" fill="#2e2e2e"/>
<rect x="1145.7" y="613.6" width="2.4" height="93.9" fill="#c4c4c4"/>
<rect x="1148.1" y="613.6" width="4.6" height="93.9" fill="#000"/>
<rect x="1148.1" y="706.5" width="1.7" height="96.5" fill="#2e2e2e"/>
<rect x="1151.1" y="706.5" width="1.6" height="96.5" fill="#2e2e2e"/>
<rect x="1158.0" y="613.6" width="2.3" height="189.4" fill="#2e2e2e"/>
<rect x="1164.8" y="613.6" width="2.4" height="189.4" fill="#2e2e2e"/>
<rect x="1173.5" y="613.6" width="3.0" height="93.9" fill="#000"/>
<rect x="1172.3" y="706.5" width="1.8" height="96.5" fill="#2e2e2e"/>
<rect x="1180.7" y="613.6" width="2.4" height="189.4" fill="#2e2e2e"/>
<rect x="1186.0" y="613.6" width="4.0" height="93.9" fill="#000"/>
<rect x="1185.5" y="706.5" width="2.5" height="96.5" fill="#2e2e2e"/>
<rect x="1199.6" y="613.6" width="1.7" height="189.4" fill="#2e2e2e"/>
<rect x="1202.7" y="613.6" width="7.3" height="93.9" fill="#000"/>
<rect x="1211.6" y="613.6" width="3.2" height="93.9" fill="#000"/>
<rect x="1202.7" y="706.5" width="5.3" height="96.5" fill="#000"/>
<rect x="1211.6" y="706.5" width="1.7" height="96.5" fill="#2e2e2e"/>
<rect x="1221.2" y="613.6" width="4.1" height="189.4" fill="#000"/>
<rect x="1229.6" y="613.6" width="3.2" height="189.4" fill="#000"/>
<rect x="1238.8" y="613.6" width="4.7" height="189.4" fill="#000"/>
<rect x="1243.5" y="613.6" width="3.0" height="93.9" fill="#000"/>
<rect x="1244.3" y="706.5" width="2.3" height="96.5" fill="#858585"/>
<rect x="1254.5" y="613.6" width="28.7" height="189.4" fill="#000"/>
<rect x="1297.3" y="613.6" width="2.0" height="189.4" fill="#2e2e2e"/>
<rect x="1311.8" y="613.6" width="1.8" height="189.4" fill="#2e2e2e"/>
<rect x="1318.7" y="613.6" width="1.8" height="189.4" fill="#2e2e2e"/>
<rect x="1330.6" y="613.6" width="1.9" height="189.4" fill="#2e2e2e"/>
<rect x="1342.7" y="613.6" width="1.9" height="189.4" fill="#2e2e2e"/>
<rect x="1362.7" y="613.6" width="1.5" height="189.4" fill="#2e2e2e"/>
<rect x="1367.0" y="613.6" width="1.8" height="189.4" fill="#2e2e2e"/>
<rect x="1377.4" y="613.6" width="1.8" height="189.4" fill="#2e2e2e"/>
<rect x="1390.0" y="613.6" width="1.6" height="189.4" fill="#2e2e2e"/>
<rect x="1396.9" y="613.6" width="1.8" height="189.4" fill="#2e2e2e"/>
<rect x="781.5" y="613.1" width="638.8" height="2.0" fill="#111"/>
</g></g>
<rect x="67.5" y="174.8" width="22.1" height="2.0" fill="#111"/>
<rect x="75.8" y="298.5" width="9.1" height="1.6" fill="#111"/>
<rect x="75.3" y="421.9" width="5.9" height="1.6" fill="#111"/>
<rect x="66.5" y="51.3" width="637.5" height="2.0" fill="#151515"/>
<rect x="66.5" y="792.2" width="637.5" height="2.0" fill="#151515"/>
<rect x="66.4" y="52.3" width="2.2" height="740.9" fill="#151515"/>
<rect x="701.9" y="52.3" width="2.2" height="740.9" fill="#151515"/>
<rect x="67.5" y="792.2" width="22.0" height="2.0" fill="#151515"/>
<rect x="681.0" y="792.2" width="22.0" height="2.0" fill="#151515"/>
<rect x="67.5" y="730.5" width="11.0" height="2.0" fill="#151515"/>
<rect x="692.0" y="730.5" width="11.0" height="2.0" fill="#151515"/>
<rect x="67.5" y="668.7" width="22.0" height="2.0" fill="#151515"/>
<rect x="681.0" y="668.7" width="22.0" height="2.0" fill="#151515"/>
<rect x="67.5" y="607.0" width="11.0" height="2.0" fill="#151515"/>
<rect x="692.0" y="607.0" width="11.0" height="2.0" fill="#151515"/>
<rect x="67.5" y="545.2" width="22.0" height="2.0" fill="#151515"/>
<rect x="681.0" y="545.2" width="22.0" height="2.0" fill="#151515"/>
<rect x="67.5" y="483.5" width="11.0" height="2.0" fill="#151515"/>
<rect x="692.0" y="483.5" width="11.0" height="2.0" fill="#151515"/>
<rect x="67.5" y="421.8" width="22.0" height="2.0" fill="#151515"/>
<rect x="681.0" y="421.8" width="22.0" height="2.0" fill="#151515"/>
<rect x="67.5" y="360.0" width="11.0" height="2.0" fill="#151515"/>
<rect x="692.0" y="360.0" width="11.0" height="2.0" fill="#151515"/>
<rect x="67.5" y="298.3" width="22.0" height="2.0" fill="#151515"/>
<rect x="681.0" y="298.3" width="22.0" height="2.0" fill="#151515"/>
<rect x="67.5" y="236.5" width="11.0" height="2.0" fill="#151515"/>
<rect x="692.0" y="236.5" width="11.0" height="2.0" fill="#151515"/>
<rect x="67.5" y="174.8" width="22.0" height="2.0" fill="#151515"/>
<rect x="681.0" y="174.8" width="22.0" height="2.0" fill="#151515"/>
<rect x="67.5" y="113.0" width="11.0" height="2.0" fill="#151515"/>
<rect x="692.0" y="113.0" width="11.0" height="2.0" fill="#151515"/>
<rect x="67.5" y="51.3" width="22.0" height="2.0" fill="#151515"/>
<rect x="681.0" y="51.3" width="22.0" height="2.0" fill="#151515"/>
<rect x="66.5" y="52.3" width="2.0" height="21.0" fill="#151515"/>
<rect x="66.5" y="772.2" width="2.0" height="21.0" fill="#151515"/>
<rect x="145.9" y="52.3" width="2.0" height="11.0" fill="#151515"/>
<rect x="145.9" y="782.2" width="2.0" height="11.0" fill="#151515"/>
<rect x="225.4" y="52.3" width="2.0" height="21.0" fill="#151515"/>
<rect x="225.4" y="772.2" width="2.0" height="21.0" fill="#151515"/>
<rect x="304.8" y="52.3" width="2.0" height="11.0" fill="#151515"/>
<rect x="304.8" y="782.2" width="2.0" height="11.0" fill="#151515"/>
<rect x="384.2" y="52.3" width="2.0" height="21.0" fill="#151515"/>
<rect x="384.2" y="772.2" width="2.0" height="21.0" fill="#151515"/>
<rect x="463.7" y="52.3" width="2.0" height="11.0" fill="#151515"/>
<rect x="463.7" y="782.2" width="2.0" height="11.0" fill="#151515"/>
<rect x="543.1" y="52.3" width="2.0" height="21.0" fill="#151515"/>
<rect x="543.1" y="772.2" width="2.0" height="21.0" fill="#151515"/>
<rect x="622.6" y="52.3" width="2.0" height="11.0" fill="#151515"/>
<rect x="622.6" y="782.2" width="2.0" height="11.0" fill="#151515"/>
<rect x="702.0" y="52.3" width="2.0" height="21.0" fill="#151515"/>
<rect x="702.0" y="772.2" width="2.0" height="21.0" fill="#151515"/>
<rect x="780.5" y="55.4" width="640.8" height="2.0" fill="#151515"/>
<rect x="780.5" y="799.0" width="640.8" height="2.0" fill="#151515"/>
<rect x="780.5" y="56.4" width="2.0" height="743.6" fill="#151515"/>
<rect x="1419.3" y="56.4" width="2.0" height="743.6" fill="#151515"/>
<rect x="1398.3" y="799.0" width="22.0" height="2.0" fill="#151515"/>
<rect x="1409.3" y="708.0" width="11.0" height="2.0" fill="#151515"/>
<rect x="1398.3" y="611.5" width="22.0" height="2.0" fill="#151515"/>
<rect x="1409.3" y="518.6" width="11.0" height="2.0" fill="#151515"/>
<rect x="1398.3" y="422.4" width="22.0" height="2.0" fill="#151515"/>
<rect x="1409.3" y="330.9" width="11.0" height="2.0" fill="#151515"/>
<rect x="781.5" y="241.3" width="15.5" height="2.0" fill="#151515"/>
<rect x="1398.3" y="239.8" width="22.0" height="2.0" fill="#151515"/>
<rect x="781.5" y="148.4" width="12.0" height="2.0" fill="#151515"/>
<rect x="1409.3" y="145.8" width="11.0" height="2.0" fill="#151515"/>
<rect x="781.5" y="55.4" width="15.5" height="2.0" fill="#151515"/>
<rect x="1398.3" y="55.4" width="22.0" height="2.0" fill="#151515"/>
<rect x="780.5" y="56.4" width="2.0" height="21.0" fill="#151515"/>
<rect x="940.2" y="56.4" width="2.0" height="21.0" fill="#151515"/>
<rect x="1020.0" y="56.4" width="2.0" height="11.0" fill="#151515"/>
<rect x="1099.9" y="56.4" width="2.0" height="21.0" fill="#151515"/>
<rect x="1179.8" y="56.4" width="2.0" height="11.0" fill="#151515"/>
<rect x="1259.6" y="56.4" width="2.0" height="21.0" fill="#151515"/>
<rect x="1339.4" y="56.4" width="2.0" height="11.0" fill="#151515"/>
<rect x="1419.3" y="56.4" width="2.0" height="21.0" fill="#151515"/>
</g>
<g>
<text x="2.6" y="32.2" font-family="'Liberation Sans',Arial,sans-serif" font-size="43.0" font-weight="bold" text-anchor="start" fill="#000" stroke="#000" stroke-width="0">A</text>
<text x="712.3" y="32.2" font-family="'Liberation Sans',Arial,sans-serif" font-size="42.5" font-weight="bold" text-anchor="start" fill="#000" stroke="#000" stroke-width="0">B</text>
<text x="59.6" y="804.6" font-family="'Liberation Serif','Times New Roman',serif" font-size="31.0" font-weight="normal" text-anchor="end" fill="#111" stroke="#111" stroke-width="0.25">0</text>
<text x="59.6" y="681.1" font-family="'Liberation Serif','Times New Roman',serif" font-size="31.0" font-weight="normal" text-anchor="end" fill="#111" stroke="#111" stroke-width="0.25">1</text>
<text x="59.6" y="557.6" font-family="'Liberation Serif','Times New Roman',serif" font-size="31.0" font-weight="normal" text-anchor="end" fill="#111" stroke="#111" stroke-width="0.25">2</text>
<text x="59.6" y="434.1" font-family="'Liberation Serif','Times New Roman',serif" font-size="31.0" font-weight="normal" text-anchor="end" fill="#111" stroke="#111" stroke-width="0.25">3</text>
<text x="59.6" y="310.7" font-family="'Liberation Serif','Times New Roman',serif" font-size="31.0" font-weight="normal" text-anchor="end" fill="#111" stroke="#111" stroke-width="0.25">4</text>
<text x="59.6" y="187.2" font-family="'Liberation Serif','Times New Roman',serif" font-size="31.0" font-weight="normal" text-anchor="end" fill="#111" stroke="#111" stroke-width="0.25">5</text>
<text x="59.6" y="63.7" font-family="'Liberation Serif','Times New Roman',serif" font-size="31.0" font-weight="normal" text-anchor="end" fill="#111" stroke="#111" stroke-width="0.25">6</text>
<text x="772.4" y="811.8" font-family="'Liberation Serif','Times New Roman',serif" font-size="31.0" font-weight="normal" text-anchor="end" fill="#111" stroke="#111" stroke-width="0.25">0</text>
<text x="772.4" y="625.9" font-family="'Liberation Serif','Times New Roman',serif" font-size="31.0" font-weight="normal" text-anchor="end" fill="#111" stroke="#111" stroke-width="0.25">1</text>
<text x="772.4" y="440.0" font-family="'Liberation Serif','Times New Roman',serif" font-size="31.0" font-weight="normal" text-anchor="end" fill="#111" stroke="#111" stroke-width="0.25">2</text>
<text x="772.4" y="254.1" font-family="'Liberation Serif','Times New Roman',serif" font-size="31.0" font-weight="normal" text-anchor="end" fill="#111" stroke="#111" stroke-width="0.25">3</text>
<text x="772.4" y="68.2" font-family="'Liberation Serif','Times New Roman',serif" font-size="31.0" font-weight="normal" text-anchor="end" fill="#111" stroke="#111" stroke-width="0.25">4</text>
<text x="61.2" y="826.0" font-family="'Liberation Serif','Times New Roman',serif" font-size="31.0" font-weight="normal" text-anchor="start" fill="#111" stroke="#111" stroke-width="0.25">0</text>
<text x="197.5" y="826.0" font-family="'Liberation Serif','Times New Roman',serif" font-size="31.0" font-weight="normal" text-anchor="start" fill="#111" stroke="#111" stroke-width="0.25">5</text>
<text x="349.4" y="826.0" font-family="'Liberation Serif','Times New Roman',serif" font-size="31.0" font-weight="normal" text-anchor="start" fill="#111" stroke="#111" stroke-width="0.25">1</text>
<text x="508.4" y="826.0" font-family="'Liberation Serif','Times New Roman',serif" font-size="31.0" font-weight="normal" text-anchor="start" fill="#111" stroke="#111" stroke-width="0.25">15</text>
<text x="667.6" y="826.0" font-family="'Liberation Serif','Times New Roman',serif" font-size="31.0" font-weight="normal" text-anchor="start" fill="#111" stroke="#111" stroke-width="0.25">20</text>
<text x="775.6" y="832.5" font-family="'Liberation Serif','Times New Roman',serif" font-size="31.0" font-weight="normal" text-anchor="start" fill="#111" stroke="#111" stroke-width="0.25">0</text>
<text x="912.5" y="832.5" font-family="'Liberation Serif','Times New Roman',serif" font-size="31.0" font-weight="normal" text-anchor="start" fill="#111" stroke="#111" stroke-width="0.25">5</text>
<text x="1064.2" y="832.5" font-family="'Liberation Serif','Times New Roman',serif" font-size="31.0" font-weight="normal" text-anchor="start" fill="#111" stroke="#111" stroke-width="0.25">1</text>
<text x="1223.8" y="832.5" font-family="'Liberation Serif','Times New Roman',serif" font-size="31.0" font-weight="normal" text-anchor="start" fill="#111" stroke="#111" stroke-width="0.25">15</text>
<text x="1383.8" y="832.5" font-family="'Liberation Serif','Times New Roman',serif" font-size="31.0" font-weight="normal" text-anchor="start" fill="#111" stroke="#111" stroke-width="0.25">20</text>
<text x="329.0" y="856.5" font-family="'Liberation Serif','Times New Roman',serif" font-size="29.0" font-weight="normal" text-anchor="start" fill="#111" stroke="#111" stroke-width="0.55" letter-spacing="0.35">Time (ns)</text>
<text x="1045.0" y="863.8" font-family="'Liberation Serif','Times New Roman',serif" font-size="29.0" font-weight="normal" text-anchor="start" fill="#111" stroke="#111" stroke-width="0.55" letter-spacing="0.35">Time (ns)</text>
<text x="32.5" y="472.5" font-family="'Liberation Serif','Times New Roman',serif" font-size="29.6" font-weight="normal" text-anchor="start" fill="#111" stroke="#111" stroke-width="0.55" transform="rotate(-90 32.5 472.5)">Number</text>
<text x="745.5" y="478.0" font-family="'Liberation Serif','Times New Roman',serif" font-size="30.0" font-weight="normal" text-anchor="start" fill="#111" stroke="#111" stroke-width="0.55" transform="rotate(-90 745.5 478.0)">Number</text>
</g>
</svg></body></html>
